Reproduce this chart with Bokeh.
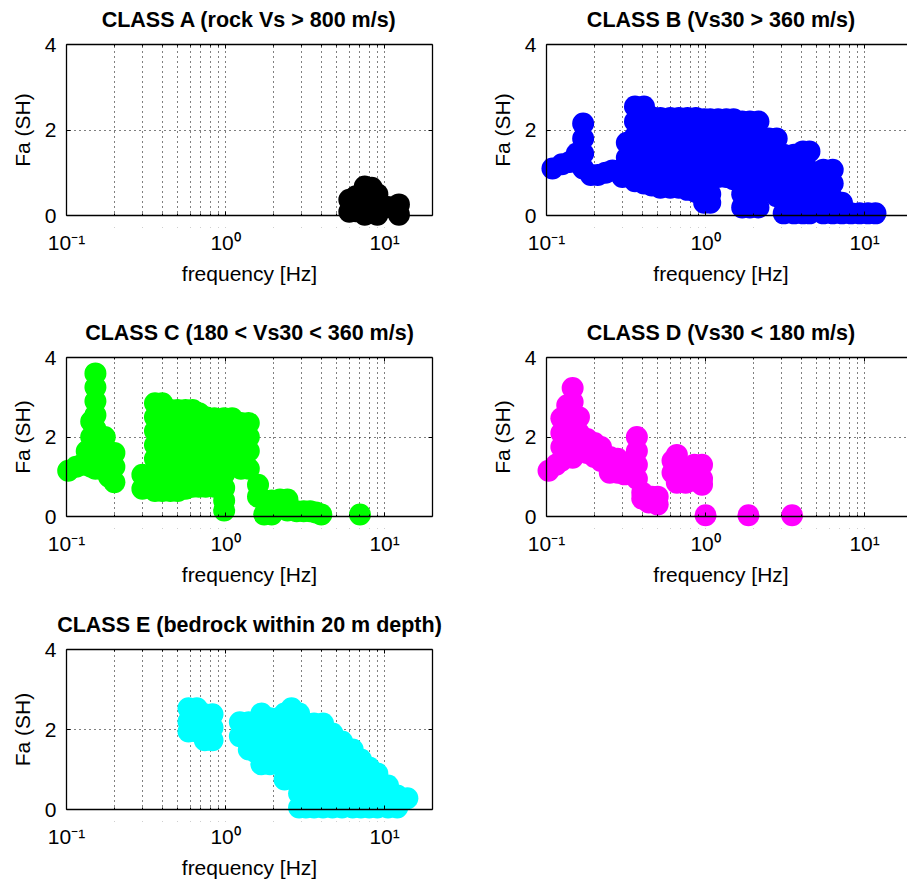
import math
from bokeh.plotting import figure
from bokeh.layouts import column, row
from bokeh.models import LinearAxis, LogAxis, FixedTicker, BoxAnnotation, Range1d
from bokeh.embed import file_html
from bokeh.resources import INLINE

# ---------------- data ----------------
titles = [
    "CLASS A (rock Vs > 800 m/s)",
    "CLASS B (Vs30 > 360 m/s)",
    "CLASS C (180 < Vs30 < 360 m/s)",
    "CLASS D (Vs30 < 180 m/s)",
    "CLASS E (bedrock within 20 m depth)",
]
colors = ["#000000", "#0000FF", "#00FF00", "#FF00FF", "#00FFFF"]

a_freq = [6.0, 6.0, 6.6, 6.6, 7.5, 7.5, 7.5, 8.3, 8.3, 9.0, 9.0, 9.0, 10.5, 12.3, 12.3]
a_fa = [0.37, 0.09, 0.45, 0.10, 0.68, 0.35, 0.02, 0.65, 0.30, 0.50, 0.25, 0.02, 0.20, 0.26, 0.02]

b_freq = [0.109, 0.125, 0.14, 0.155, 0.17, 0.17, 0.17, 0.17, 0.19, 0.21, 0.235, 0.26, 0.29, 0.30, 0.32, 0.32,
          0.36, 0.36, 0.36, 0.36, 0.36, 0.36,
          0.41, 0.41, 0.41, 0.41, 0.41, 0.41,
          0.46, 0.46, 0.46, 0.46, 0.46, 0.46,
          0.52, 0.52, 0.52, 0.52, 0.52, 0.52,
          0.60, 0.60, 0.60, 0.60, 0.60, 0.60,
          0.68, 0.68, 0.68, 0.68, 0.68, 0.68,
          0.77, 0.77, 0.77, 0.77, 0.77, 0.77,
          0.87, 0.87, 0.87, 0.87, 0.87, 0.87,
          0.98, 0.98, 0.98, 0.98, 0.98, 0.98, 0.98,
          1.07, 1.07, 1.07, 1.07, 1.07, 1.07, 1.07,
          1.2, 1.2, 1.2, 1.2, 1.2,
          1.35, 1.35, 1.35, 1.35, 1.35,
          1.5, 1.5, 1.5, 1.5, 1.5,
          1.7, 1.7, 1.7, 1.7, 1.7, 1.7, 1.7,
          1.9, 1.9, 1.9, 1.9, 1.9, 1.9, 1.9,
          2.15, 2.15, 2.15, 2.15, 2.15, 2.15, 2.15,
          2.5, 2.5, 2.5, 2.5,
          2.8, 2.8, 2.8, 2.8, 2.8,
          3.1, 3.1, 3.1, 3.1, 3.1,
          3.6, 3.6, 3.6, 3.6, 3.6,
          4.1, 4.1, 4.1, 4.1, 4.1,
          4.5, 4.5, 4.5, 4.5, 4.5,
          5.5, 5.5, 5.5, 5.5,
          6.3, 6.3, 6.3, 6.3,
          7.2, 7.2, 8.2, 9.3, 10.5, 11.7]
b_fa = [1.10, 1.20, 1.25, 1.45, 2.15, 1.80, 1.45, 1.10, 0.95, 0.95, 1.00, 1.05, 1.05, 0.90, 1.70, 1.35,
        2.55, 2.20, 1.85, 1.50, 1.15, 0.80,
        2.55, 2.20, 1.85, 1.50, 1.15, 0.75,
        2.30, 1.95, 1.60, 1.25, 0.90, 0.70,
        2.28, 1.93, 1.58, 1.23, 0.88, 0.65,
        2.28, 1.93, 1.58, 1.23, 0.88, 0.65,
        2.28, 1.93, 1.58, 1.23, 0.88, 0.65,
        2.28, 1.93, 1.58, 1.23, 0.88, 0.60,
        2.28, 1.93, 1.58, 1.23, 0.88, 0.55,
        2.25, 1.90, 1.55, 1.20, 0.85, 0.50, 0.30,
        2.25, 1.90, 1.55, 1.20, 0.85, 0.50, 0.30,
        2.25, 1.90, 1.55, 1.20, 0.90,
        2.25, 1.90, 1.55, 1.20, 0.90,
        2.25, 1.90, 1.55, 1.20, 0.85,
        2.20, 1.85, 1.50, 1.15, 0.80, 0.50, 0.19,
        2.20, 1.85, 1.50, 1.15, 0.80, 0.50, 0.19,
        2.20, 1.85, 1.50, 1.15, 0.80, 0.50, 0.19,
        1.80, 1.45, 1.10, 0.75,
        1.80, 1.45, 1.10, 0.75, 0.45,
        1.42, 1.05, 0.70, 0.40, 0.05,
        1.42, 1.05, 0.70, 0.40, 0.05,
        1.50, 1.05, 0.75, 0.40, 0.05,
        1.50, 1.05, 0.75, 0.40, 0.05,
        1.07, 0.75, 0.40, 0.05,
        1.07, 0.75, 0.40, 0.05,
        0.30, 0.05, 0.05, 0.05, 0.05, 0.05]

c_freq = [0.1025, 0.115, 0.125, 0.134, 0.134, 0.143, 0.143, 0.143, 0.143,
          0.152, 0.152, 0.152, 0.152, 0.152, 0.152, 0.152, 0.152,
          0.165, 0.174, 0.174, 0.174, 0.185, 0.20, 0.20, 0.20,
          0.30, 0.30,
          0.36, 0.36, 0.36, 0.36, 0.36, 0.36, 0.36,
          0.40, 0.40, 0.40, 0.40, 0.40, 0.40, 0.40,
          0.45, 0.45, 0.45, 0.45, 0.45, 0.45, 0.45,
          0.50, 0.50, 0.50, 0.50, 0.50, 0.50, 0.50,
          0.56, 0.56, 0.56, 0.56, 0.56, 0.56, 0.56,
          0.62, 0.62, 0.62, 0.62, 0.62, 0.62, 0.62,
          0.68, 0.68, 0.68, 0.68, 0.68, 0.68,
          0.75, 0.75, 0.75, 0.75, 0.75, 0.75,
          0.85, 0.85, 0.85, 0.85, 0.85, 0.85,
          0.98, 0.98, 0.98, 0.98, 0.98, 0.98, 0.98, 0.98,
          1.1, 1.1, 1.1, 1.1,
          1.25, 1.25, 1.25, 1.25,
          1.4, 1.4, 1.4, 1.4,
          1.6, 1.6, 1.75, 1.75, 1.95, 1.95, 2.2, 2.45, 2.45,
          2.8, 3.1, 3.4, 3.7, 4.0, 7.0]
c_fa = [1.15, 1.25, 1.30, 1.64, 1.30, 2.39, 2.00, 1.60, 1.25,
        3.60, 3.25, 2.90, 2.55, 2.20, 1.85, 1.50, 1.20,
        1.20, 2.00, 1.65, 1.30, 1.00, 1.60, 1.25, 0.86,
        1.05, 0.70,
        2.85, 2.50, 2.15, 1.80, 1.45, 1.10, 0.64,
        2.85, 2.50, 2.15, 1.80, 1.45, 1.10, 0.64,
        2.68, 2.33, 1.98, 1.63, 1.28, 0.93, 0.64,
        2.68, 2.33, 1.98, 1.63, 1.28, 0.93, 0.64,
        2.68, 2.33, 1.98, 1.63, 1.28, 0.93, 0.70,
        2.68, 2.33, 1.98, 1.63, 1.28, 0.93, 0.75,
        2.60, 2.25, 1.90, 1.55, 1.20, 0.75,
        2.50, 2.15, 1.80, 1.45, 1.10, 0.75,
        2.47, 2.12, 1.77, 1.42, 1.07, 0.75,
        2.47, 2.12, 1.77, 1.42, 1.07, 0.72, 0.40, 0.15,
        2.47, 2.12, 1.77, 1.42,
        2.35, 2.00, 1.65, 1.20,
        2.35, 2.00, 1.65, 1.20,
        0.80, 0.50, 0.40, 0.05, 0.40, 0.05, 0.43, 0.43, 0.15,
        0.13, 0.13, 0.13, 0.10, 0.05, 0.05]

d_freq = [0.103, 0.115, 0.124, 0.124, 0.124, 0.124, 0.135,
          0.146, 0.146, 0.146, 0.146, 0.146, 0.146, 0.16, 0.16, 0.16,
          0.18, 0.18, 0.20, 0.20, 0.22, 0.22, 0.25, 0.25, 0.28, 0.28, 0.31, 0.31,
          0.37, 0.37, 0.37, 0.37, 0.40, 0.40, 0.44, 0.46, 0.50, 0.50,
          0.62, 0.62, 0.66, 0.66, 0.66, 0.75, 0.75, 0.85, 0.85, 0.95, 0.95, 0.95,
          1.0, 1.86, 3.5]
d_fa = [1.15, 1.30, 2.47, 2.10, 1.75, 1.40, 2.80,
        3.23, 2.88, 2.53, 2.18, 1.83, 1.48, 2.50, 2.10, 1.70,
        1.95, 1.60, 1.85, 1.50, 1.75, 1.40, 1.50, 1.10, 1.45, 1.10, 1.30, 1.06,
        2.00, 1.65, 1.30, 0.95, 0.60, 0.45, 0.35, 0.50, 0.50, 0.30,
        1.40, 1.10, 1.55, 1.20, 0.85, 1.20, 0.85, 1.30, 0.90, 1.30, 0.95, 0.80,
        0.03, 0.03, 0.03]

e_freq = [0.585, 0.585, 0.585, 0.66, 0.66, 0.66, 0.74, 0.74, 0.74, 0.828, 0.828, 0.828,
          1.23, 1.23, 1.4, 1.4, 1.4, 1.55, 1.55, 1.55,
          1.68, 1.68, 1.68, 1.68, 1.68,
          1.9, 1.9, 1.9, 1.9, 1.9,
          2.15, 2.15, 2.15, 2.15, 2.15,
          2.35, 2.35, 2.35, 2.35, 2.35, 2.35,
          2.6, 2.6, 2.6, 2.6, 2.6, 2.6,
          2.9, 2.9, 2.9, 2.9, 2.9, 2.9, 2.9, 2.9,
          3.2, 3.2, 3.2, 3.2, 3.2, 3.2, 3.2,
          3.6, 3.6, 3.6, 3.6, 3.6, 3.6, 3.6,
          4.1, 4.1, 4.1, 4.1, 4.1, 4.1, 4.1,
          4.7, 4.7, 4.7, 4.7, 4.7, 4.7,
          5.4, 5.4, 5.4, 5.4, 5.4, 5.4,
          6.3, 6.3, 6.3, 6.3, 6.3,
          7.1, 7.1, 7.1, 7.1, 7.1,
          8.0, 8.0, 8.0, 8.0,
          9.0, 9.0, 9.0, 9.0,
          10.5, 10.5, 10.5, 12.0, 12.0, 13.9]
e_fa = [2.53, 2.20, 1.95, 2.53, 2.20, 1.95, 2.38, 2.05, 1.73, 2.38, 2.05, 1.73,
        2.18, 1.83, 2.18, 1.85, 1.50, 2.20, 1.85, 1.43,
        2.40, 2.05, 1.70, 1.35, 1.13,
        2.28, 1.95, 1.60, 1.25, 1.13,
        2.28, 1.95, 1.60, 1.25, 1.13,
        2.40, 2.05, 1.70, 1.35, 1.05, 0.75,
        2.53, 2.20, 1.85, 1.50, 1.15, 0.80,
        2.40, 2.05, 1.70, 1.35, 1.00, 0.70, 0.40, 0.05,
        2.15, 1.80, 1.45, 1.10, 0.75, 0.40, 0.05,
        2.15, 1.80, 1.45, 1.10, 0.75, 0.40, 0.05,
        2.15, 1.80, 1.45, 1.10, 0.75, 0.40, 0.05,
        1.90, 1.55, 1.20, 0.85, 0.50, 0.05,
        1.70, 1.35, 1.00, 0.65, 0.30, 0.05,
        1.50, 1.15, 0.80, 0.45, 0.05,
        1.25, 0.90, 0.55, 0.20, 0.05,
        1.05, 0.70, 0.35, 0.05,
        0.90, 0.55, 0.20, 0.05,
        0.60, 0.30, 0.05, 0.35, 0.05, 0.28]

x_grid_ticks = [0.2, 0.3, 0.4, 0.5, 0.6, 0.7, 0.8, 0.9, 1, 2, 3, 4, 5, 6, 7, 8, 9, 10]
x_major_ticks = [0.1, 1, 10]
x_tick_labels = {0.1: "10\u207b\u00b9", 1: "10\u2070", 10: "10\u00b9"}
y_ticks = [0, 2, 4]
y_grid_ticks = [2]

X_LO, X_HI = 0.1, 20.0
Y_LO, Y_HI = 0.0, 4.0

FONT = "Liberation Sans"
PAD = 12
BOX_W = 366
col_geom = [dict(left=54, right=40, frame=390), dict(left=50, right=0, frame=373)]
row_geom = [dict(top=32, bottom=68, box=171), dict(top=50, bottom=70, box=159), dict(top=39, bottom=58, box=160)]


def style_box_axis(ax):
    ax.axis_line_color = "black"
    ax.axis_line_width = 1.3
    ax.major_tick_in = 4
    ax.major_tick_out = 0
    ax.minor_tick_in = 2
    ax.minor_tick_out = 0
    ax.major_tick_line_color = "black"
    ax.major_label_text_alpha = 0.0
    ax.major_label_text_font_size = "1px"


def style_label_axis(ax):
    ax.axis_line_color = None
    ax.major_tick_line_color = None
    ax.minor_tick_line_color = None
    ax.major_label_text_font = FONT
    ax.major_label_text_font_size = "21px"
    ax.major_label_text_color = "black"
    ax.axis_label_text_font = FONT
    ax.axis_label_text_font_size = "21px"
    ax.axis_label_text_font_style = "normal"
    ax.axis_label_text_color = "black"


def make_panel(title, fx, fy, color, ci, ri):
    cg, rg = col_geom[ci], row_geom[ri]
    ppd = BOX_W / math.log10(X_HI / X_LO)
    xs = 10 ** (math.log10(X_LO) - PAD / ppd)
    xe = 10 ** (math.log10(X_LO) + (cg["frame"] - PAD) / ppd)
    upp = (Y_HI - Y_LO) / rg["box"]
    p = figure(x_axis_type="log",
               x_range=Range1d(xs, xe), y_range=Range1d(Y_LO - PAD * upp, Y_HI + PAD * upp),
               frame_width=cg["frame"], frame_height=rg["box"] + 2 * PAD,
               min_border_left=cg["left"], min_border_right=cg["right"],
               min_border_top=rg["top"], min_border_bottom=rg["bottom"],
               output_backend="svg", toolbar_location=None, outline_line_color=None,
               background_fill_color="white", border_fill_color="white")
    # grids
    p.xgrid.ticker = FixedTicker(ticks=x_grid_ticks)
    p.ygrid.ticker = FixedTicker(ticks=y_grid_ticks)
    for g in (p.xgrid, p.ygrid):
        g.grid_line_color = "black"
        g.grid_line_dash = "1 4"
        g.grid_line_width = 1
        g.grid_line_alpha = 1.0
    # white covers outside the box (hide grid overflow)
    for kw in (dict(top=Y_LO), dict(bottom=Y_HI), dict(right=X_LO), dict(left=X_HI)):
        p.add_layout(BoxAnnotation(fill_color="white", fill_alpha=1.0, line_alpha=0.0,
                                   level="underlay", **kw))
    # data
    p.scatter(fx, fy, size=22, marker="circle", fill_color=color, line_color=None)

    # label axes (in the side panels)
    xa = p.xaxis[0]
    xa.ticker = FixedTicker(ticks=x_major_ticks)
    xa.major_label_overrides = x_tick_labels
    xa.axis_label = "frequency [Hz]"
    style_label_axis(xa)
    xa.major_label_standoff = -3
    xa.axis_label_standoff = 5
    ya = p.yaxis[0]
    ya.ticker = FixedTicker(ticks=y_ticks)
    ya.axis_label = "Fa (SH)"
    style_label_axis(ya)
    ya.major_label_standoff = -8
    ya.axis_label_standoff = 8

    # box axes (lines + inward ticks at the box edges)
    tk_x = FixedTicker(ticks=x_major_ticks, minor_ticks=x_grid_ticks)
    tk_y = FixedTicker(ticks=y_ticks)
    bx = [LogAxis(fixed_location=Y_LO, bounds=(X_LO, X_HI), ticker=tk_x),
          LogAxis(fixed_location=Y_HI, bounds=(X_LO, X_HI), ticker=tk_x),
          LinearAxis(fixed_location=X_LO, bounds=(Y_LO, Y_HI), ticker=tk_y, minor_tick_line_color=None)]
    sides = ["below", "above", "left"]
    if ci == 0:
        bx.append(LinearAxis(fixed_location=X_HI, bounds=(Y_LO, Y_HI), ticker=tk_y,
                             minor_tick_line_color=None))
        sides.append("right")
    for ax, side in zip(bx, sides):
        style_box_axis(ax)
        p.add_layout(ax, side)

    p.title.text = title
    p.title.align = "center"
    p.title.text_font = FONT
    p.title.text_font_size = "21.5px"
    p.title.text_font_style = "bold"
    p.title.text_color = "black"
    p.title.standoff = 2
    p.title.offset = 7 if ci == 1 else 0
    return p


pa = make_panel(titles[0], a_freq, a_fa, colors[0], 0, 0)
pb = make_panel(titles[1], b_freq, b_fa, colors[1], 1, 0)
pc = make_panel(titles[2], c_freq, c_fa, colors[2], 0, 1)
pd = make_panel(titles[3], d_freq, d_fa, colors[3], 1, 1)
pe = make_panel(titles[4], e_freq, e_fa, colors[4], 0, 2)

layout = column(row(pa, pb), row(pc, pd), row(pe))
open("out.html", "w").write(file_html(layout, INLINE))
